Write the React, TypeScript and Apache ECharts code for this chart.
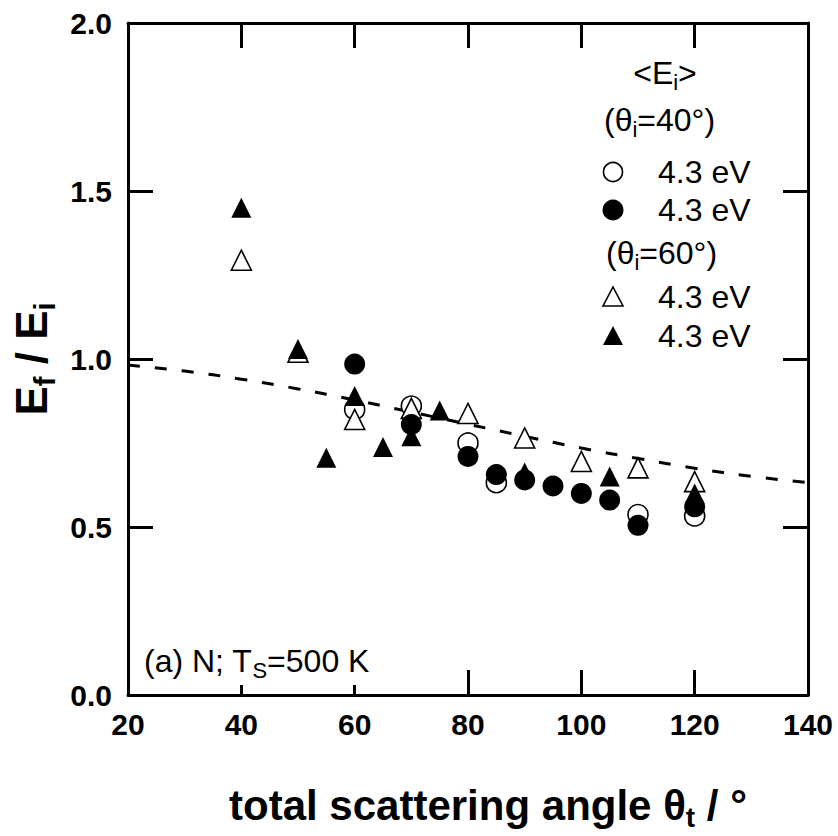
import React, { useEffect, useRef } from "react";
import * as echarts from "echarts";

const FONT = '"Liberation Sans", Arial, Helvetica, sans-serif';

// x-axis ticks (total scattering angle, deg) and y-axis ticks (Ef/Ei)
const xTicks = [20, 40, 60, 80, 100, 120, 140];
const yTicks = [0.0, 0.5, 1.0, 1.5, 2.0];

// theta_i = 40 deg, open circles
const openCircleX = [60, 70, 80, 85, 110, 120];
const openCircleY = [0.85, 0.86, 0.75, 0.632, 0.537, 0.533];

// theta_i = 40 deg, filled circles
const filledCircleX = [60, 70, 80, 85, 90, 95, 100, 105, 110, 120];
const filledCircleY = [0.985, 0.805, 0.71, 0.656, 0.64, 0.622, 0.6, 0.58, 0.505, 0.56];

// theta_i = 60 deg, open triangles
const openTriX = [40, 50, 60, 70, 80, 90, 100, 110, 120];
const openTriY = [1.294, 1.02, 0.82, 0.853, 0.838, 0.765, 0.695, 0.676, 0.635];

// theta_i = 60 deg, filled triangles
const filledTriX = [40, 50, 55, 60, 65, 70, 75, 90, 105, 120];
const filledTriY = [1.45, 1.03, 0.706, 0.89, 0.738, 0.77, 0.847, 0.662, 0.65, 0.6];

// dashed model curve
const curveX = [20, 30, 40, 50, 60, 70, 80, 90, 100, 110, 120, 130, 140];
const curveY = [0.982, 0.964, 0.94, 0.911, 0.878, 0.842, 0.806, 0.77, 0.735, 0.704, 0.675, 0.651, 0.632];

const zip = (xs: number[], ys: number[]) => xs.map((x, i) => [x, ys[i]]);

export default function App() {
  const ref = useRef<HTMLDivElement>(null);

  useEffect(() => {
    if (!ref.current) return;
    const chart = echarts.init(ref.current, undefined, { renderer: "svg" });

    const axisLine = { show: true, onZero: false, lineStyle: { color: "#000", width: 3 } };
    const axisTick = { show: true, inside: true, length: 25, lineStyle: { color: "#000", width: 3 } };
    const tickLabel = {
      fontSize: 30,
      fontWeight: "bold" as const,
      color: "#000",
      fontFamily: FONT,
    };

    const openStyle = { color: "#fff", borderColor: "#000", borderWidth: 1.6, opacity: 1 };
    const filledStyle = { color: "#000", borderColor: "#000", borderWidth: 0, opacity: 1 };

    const richLegend = {
      a: { fontSize: 32, fontFamily: FONT, fill: "#000" },
      s: { fontSize: 22, fontFamily: FONT, fill: "#000", padding: [18, 0, 0, 0] },
    };

    const legendText = (t: string, x: number, y: number, align = "left") => ({
      type: "text",
      x,
      y,
      z: 100,
      style: {
        text: t,
        fill: "#000",
        textAlign: align,
        textVerticalAlign: "middle",
        rich: richLegend,
      },
    });

    const option: any = {
      animation: false,
      backgroundColor: "#fff",
      grid: { left: 128, right: 30, top: 23, bottom: 133, containLabel: false },
      xAxis: [
        {
          type: "value",
          min: xTicks[0],
          max: xTicks[xTicks.length - 1],
          interval: 20,
          position: "bottom",
          axisLine,
          axisTick,
          splitLine: { show: false },
          axisLabel: { ...tickLabel, margin: 14, formatter: (v: number) => String(v) },
          name: "{b|total scattering angle θ}{s|t}{b| / °}",
          nameLocation: "middle",
          nameGap: 84,
          nameTextStyle: {
            padding: [0, 0, 0, 40],
            rich: {
              b: { fontSize: 42, fontWeight: "bold", fontFamily: FONT, color: "#000" },
              s: { fontSize: 28, fontWeight: "bold", fontFamily: FONT, color: "#000", padding: [24, 0, 0, 0] },
            },
          },
        },
        {
          type: "value",
          min: xTicks[0],
          max: xTicks[xTicks.length - 1],
          interval: 20,
          position: "top",
          axisLine,
          axisTick,
          splitLine: { show: false },
          axisLabel: { show: false },
        },
      ],
      yAxis: [
        {
          type: "value",
          min: yTicks[0],
          max: yTicks[yTicks.length - 1],
          interval: 0.5,
          position: "left",
          axisLine,
          axisTick,
          splitLine: { show: false },
          axisLabel: { ...tickLabel, margin: 16, formatter: (v: number) => v.toFixed(1) },
          name: "{b|E}{s|f}{b| / E}{s|i}",
          nameLocation: "middle",
          nameRotate: 90,
          nameGap: 66,
          nameTextStyle: {
            rich: {
              b: { fontSize: 44, fontWeight: "bold", fontFamily: FONT, color: "#000" },
              s: { fontSize: 29, fontWeight: "bold", fontFamily: FONT, color: "#000", padding: [26, 0, 0, 0] },
            },
          },
        },
        {
          type: "value",
          min: yTicks[0],
          max: yTicks[yTicks.length - 1],
          interval: 0.5,
          position: "right",
          axisLine,
          axisTick,
          splitLine: { show: false },
          axisLabel: { show: false },
        },
      ],
      series: [
        {
          name: "model",
          type: "line",
          data: zip(curveX, curveY),
          smooth: true,
          showSymbol: false,
          symbol: "none",
          lineStyle: { color: "#000", width: 3, type: [12, 15] },
          z: 1,
        },
        {
          name: "θi=40° open",
          type: "scatter",
          symbol: "circle",
          symbolSize: 20,
          data: zip(openCircleX, openCircleY),
          itemStyle: openStyle,
          z: 2,
        },
        {
          name: "θi=60° open",
          type: "scatter",
          symbol: "triangle",
          symbolSize: 20,
          data: zip(openTriX, openTriY),
          itemStyle: openStyle,
          z: 3,
        },
        {
          name: "θi=40° filled",
          type: "scatter",
          symbol: "circle",
          symbolSize: 21,
          data: zip(filledCircleX, filledCircleY),
          itemStyle: filledStyle,
          z: 4,
        },
        {
          name: "θi=60° filled",
          type: "scatter",
          symbol: "triangle",
          symbolSize: 20,
          data: zip(filledTriX, filledTriY),
          itemStyle: filledStyle,
          z: 5,
        },
      ],
      graphic: [
        legendText("{a|<E}{s|i}{a|>}", 665, 73, "center"),
        legendText("{a|(θ}{s|i}{a|=40°)}", 604, 120),
        { type: "circle", z: 100, shape: { cx: 613, cy: 172, r: 9.5 }, style: { fill: "#fff", stroke: "#000", lineWidth: 1.6 } },
        legendText("{a|4.3 eV}", 658, 172),
        { type: "circle", z: 100, shape: { cx: 613, cy: 210, r: 10.5 }, style: { fill: "#000" } },
        legendText("{a|4.3 eV}", 658, 210),
        legendText("{a|(θ}{s|i}{a|=60°)}", 606, 253),
        {
          type: "polygon",
          z: 100,
          shape: { points: [[613, 287], [623, 306], [603, 306]] },
          style: { fill: "#fff", stroke: "#000", lineWidth: 1.6 },
        },
        legendText("{a|4.3 eV}", 658, 297),
        {
          type: "polygon",
          z: 100,
          shape: { points: [[613, 326], [623, 345], [603, 345]] },
          style: { fill: "#000" },
        },
        legendText("{a|4.3 eV}", 658, 336),
        {
          type: "text",
          x: 138,
          y: 662,
          z: 100,
          style: {
            text: "{a|(a) N; T}{s|S}{a|=500 K}",
            fill: "#000",
            textAlign: "left",
            textVerticalAlign: "middle",
            backgroundColor: "#fff",
            padding: [2, 6, 4, 6],
            rich: richLegend,
          },
        },
      ],
    };

    chart.setOption(option);
    return () => {
      chart.dispose();
    };
  }, []);

  return (
    <div
      ref={ref}
      style={{ position: "absolute", left: 0, top: 0, width: 838, height: 836, background: "#fff" }}
    />
  );
}
